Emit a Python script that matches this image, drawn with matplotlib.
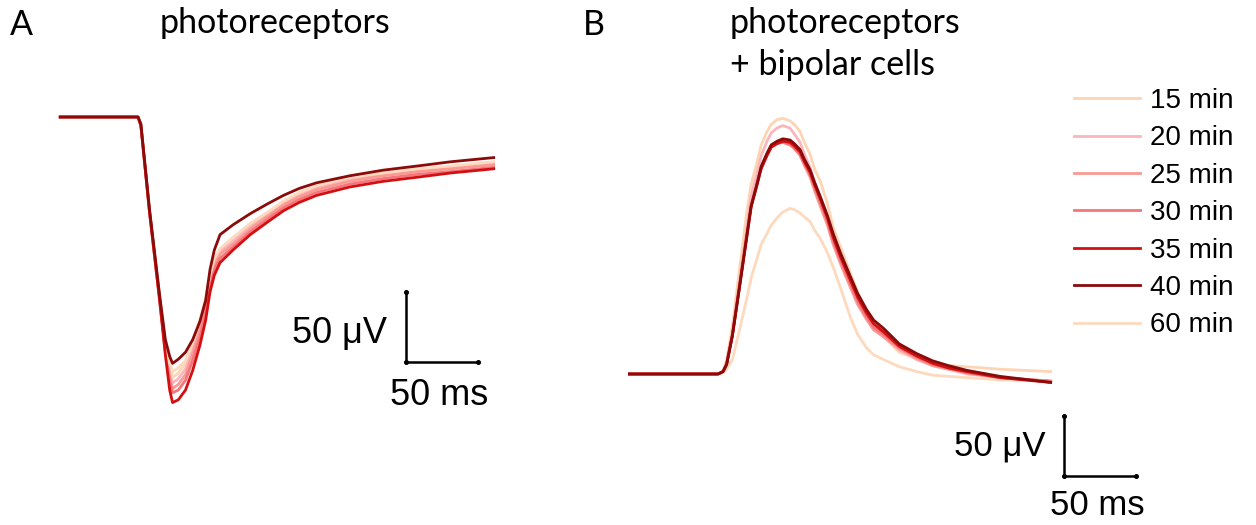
import matplotlib
matplotlib.use("Agg")
import matplotlib.pyplot as plt

# legend / trace labels and colours
labels = ["15 min", "20 min", "25 min", "30 min", "35 min", "40 min", "60 min"]
colors = ["#fdd5b4", "#fbb5bc", "#f99a93", "#f5757a", "#d40f12", "#8b0a0a", "#fdd9bd"]

# panel A: photoreceptors (a-wave), time in ms after flash, voltage in uV
t_a = [-54, 0, 2, 8, 15, 19, 22, 24, 28, 33, 38, 43, 47, 50, 53, 57, 66, 78, 90,
       101, 112, 124, 147, 170, 194, 217, 247]
a_15 = [0, 0, -5, -67, -129, -164, -179, -186, -183, -176, -164, -147, -131, -114,
        -103, -95, -88, -77, -69, -61, -55, -50, -44, -41, -38, -36, -33]
a_20 = [0, 0, -6, -67, -129, -166, -184, -190, -187, -180, -166, -150, -133, -116,
        -104, -96, -89, -78, -70, -62, -56, -51, -45, -41, -39, -36, -34]
a_25 = [0, 0, -6, -68, -130, -167, -186, -194, -191, -184, -169, -153, -136, -118,
        -106, -98, -91, -80, -71, -63, -57, -52, -46, -42, -39, -37, -34]
a_30 = [0, 0, -6, -68, -130, -168, -189, -197, -195, -188, -174, -157, -140, -121,
        -109, -101, -93, -82, -73, -65, -59, -54, -48, -44, -41, -39, -36]
a_35 = [0, 0, -6, -68, -131, -170, -195, -204, -202, -195, -181, -163, -145, -125,
        -113, -104, -95, -84, -75, -67, -61, -56, -50, -46, -43, -40, -37]
a_40 = [0, 0, -5, -66, -127, -159, -171, -176, -173, -168, -159, -146, -131, -109,
        -95, -84, -77, -69, -62, -56, -51, -47, -42, -38, -35, -32, -29]
a_60 = [0, 0, -5, -67, -129, -163, -176, -182, -179, -174, -161, -145, -129, -113,
        -101, -94, -86, -76, -68, -60, -54, -49, -43, -40, -37, -35, -32]

# panel B: photoreceptors + bipolar cells (b-wave)
t_b = [-70, 0, 3.5, 6, 10, 15, 20, 23, 27, 30, 34, 37, 41, 45, 50, 53, 57, 60, 64,
       67, 71, 76, 80, 85, 92, 97, 103, 108, 115, 126, 138, 149, 160, 173, 196, 231]
b_15 = [0, 0, 3, 12, 40, 88, 135, 158, 176, 191, 202, 208, 212, 213, 211, 208, 202,
        193, 183, 171, 161, 142, 122, 106, 84, 68, 53, 42, 31, 18, 13, 9, 7, 6, 4, 2]
b_20 = [0, 0, 2, 9, 34, 78, 121, 148, 167, 182, 194, 201, 205, 207, 205, 200, 193,
        183, 172, 160, 146, 128, 111, 94, 73, 58, 46, 37, 31, 20, 12, 7, 4, 0, -3, -6]
b_25 = [0, 0, 2, 9, 33, 75, 117, 141, 159, 173, 183, 190, 193, 194, 192, 188, 182,
        174, 164, 153, 140, 124, 108, 92, 72, 58, 46, 37, 31, 21, 13, 7, 4, 1, -3, -6]
b_30 = [0, 0, 2, 8, 33, 74, 116, 140, 158, 172, 182, 189, 192, 193, 191, 188, 183,
        175, 166, 156, 143, 127, 111, 95, 75, 61, 48, 39, 33, 22, 14, 8, 5, 1, -3, -6]
b_35 = [0, 0, 2, 8, 32, 73, 114, 139, 157, 171, 182, 189, 192, 194, 193, 190, 185,
        177, 168, 158, 146, 130, 114, 98, 78, 64, 51, 42, 35, 23, 15, 9, 5, 2, -3, -7]
b_40 = [0, 0, 2, 8, 32, 73, 115, 140, 158, 173, 184, 191, 194, 196, 195, 192, 187,
        179, 170, 160, 148, 132, 117, 101, 81, 67, 54, 45, 38, 25, 17, 11, 7, 3, -2, -7]
b_60 = [0, 0, 1, 4, 12, 37, 63, 80, 96, 108, 117, 124, 130, 135, 138, 137, 134,
        131, 127, 120, 113, 101, 89, 72, 47, 33, 22, 16, 12, 6, 2, -1, -2, -3, -5, -6]

traces_a = [a_15, a_20, a_25, a_30, a_35, a_40, a_60]
traces_b = [b_15, b_20, b_25, b_30, b_35, b_40, b_60]

W, H = 1256, 525
fig = plt.figure(figsize=(W / 100, H / 100), dpi=100)
plt.rcParams["font.family"] = ["Liberation Sans", "DejaVu Sans"]

# axes placed so that the scale bars come out at the same pixel size as the reference
axA = fig.add_axes([0, 0, 0.5, 1])
axB = fig.add_axes([0.5, 0, 0.5, 1])

# pixel origin (flash onset, baseline) and px per ms / uV for each panel
ax_a0, ay_a0, pxms_a, pxuv_a = 138, 117, 72 / 50, 70 / 50
ax_b0, ay_b0, pxms_b, pxuv_b = 718 - 628, 374, 72 / 50, 60 / 50

axA.set_xlim(-ax_a0 / pxms_a, (628 - ax_a0) / pxms_a)
axA.set_ylim((ay_a0 - H) / pxuv_a, ay_a0 / pxuv_a)
axB.set_xlim(-ax_b0 / pxms_b, (628 - ax_b0) / pxms_b)
axB.set_ylim((ay_b0 - H) / pxuv_b, ay_b0 / pxuv_b)

order_a = [0, 1, 2, 3, 6, 4, 5]
for i in order_a:
    axA.plot(t_a, traces_a[i], color=colors[i], lw=2.0, solid_joinstyle="round")

handles = {}
for i in [6, 0, 1, 2, 3, 4, 5]:
    ln, = axB.plot(t_b, traces_b[i], color=colors[i], lw=2.0, solid_joinstyle="round")
    handles[i] = ln

# scale bars: 50 uV and 50 ms, with small end marks
bar_kw = dict(color="black", lw=1.8, solid_capstyle="butt")
cap_kw = dict(color="black", marker="o", ms=2.6, ls="none")
for ax, x0, y0 in ((axA, 186, -175), (axB, 240, -85)):
    ax.plot([x0, x0], [y0, y0 + 50], **bar_kw)
    ax.plot([x0, x0 + 50], [y0, y0], **bar_kw)
    ax.plot([x0, x0, x0 + 50], [y0 + 50, y0, y0], **cap_kw)

for ax in (axA, axB):
    ax.axis("off")

fx = lambda px: px / W
fy = lambda py: 1 - py / H

fig.text(fx(387), fy(343), "50 μV", fontsize=26, ha="right", va="baseline")
fig.text(fx(390), fy(405), "50 ms", fontsize=26, ha="left", va="baseline")
fig.text(fx(1045), fy(455), "50 μV", fontsize=25, ha="right", va="baseline")
fig.text(fx(1050), fy(515), "50 ms", fontsize=25, ha="left", va="baseline")

title_kw = dict(fontsize=24.5, family="Lato", va="baseline", ha="left")
fig.text(fx(10), fy(35), "A", **title_kw)
fig.text(fx(160), fy(33), "photoreceptors", **title_kw)
fig.text(fx(583), fy(35), "B", **title_kw)
fig.text(fx(730), fy(33), "photoreceptors", **title_kw)
fig.text(fx(730), fy(75), "+ bipolar cells", **title_kw)

fig.legend([handles[i] for i in range(7)], labels, loc="upper left",
           bbox_to_anchor=(fx(1074), fy(88)),
           frameon=False, fontsize=20, borderpad=0, borderaxespad=0,
           handlelength=2.37, handletextpad=0.36, labelspacing=0.41)

fig.savefig("out.png", dpi=100)
